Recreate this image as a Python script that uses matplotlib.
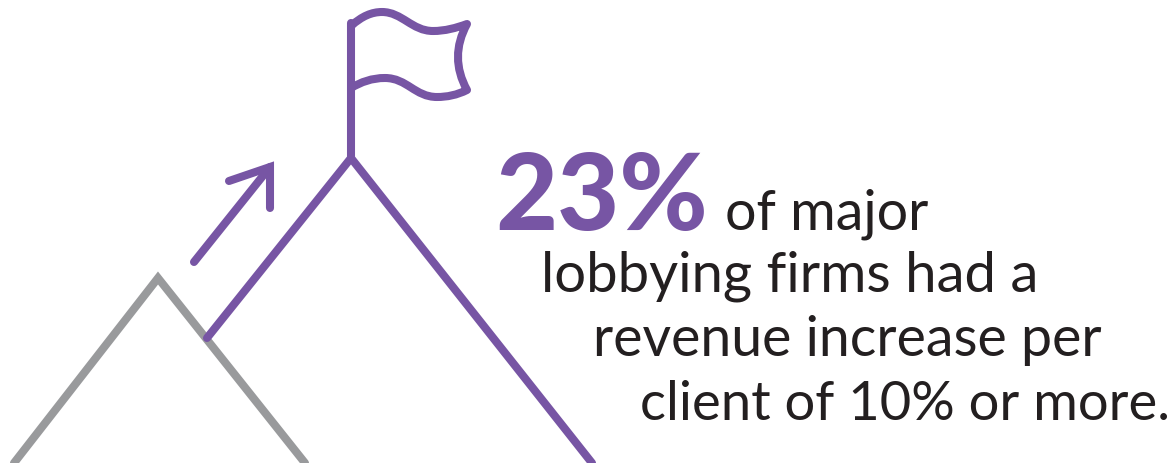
import numpy as np
import matplotlib
matplotlib.use("Agg")
import matplotlib.pyplot as plt
from matplotlib.path import Path
from matplotlib.patches import PathPatch

purple = "#7755a4"
grey = "#999a9c"
dark = "#231f20"

# outlines, in pixels
big_peak_x = [207, 351, 592]
big_peak_y = [338, 158, 463]
small_peak_x = [14, 158, 305]
small_peak_y = [463, 278, 463]
pole_x = [351, 351]
pole_y = [156, 23]
arrow_x = [194, 270]
arrow_y = [262, 167]
head_x = [229, 270, 270]
head_y = [181, 167, 208]

headline = "23%"
lines = ["of major", "lobbying firms had a", "revenue increase per", "client of 10% or more."]
line_x = [725, 541, 593, 640]
line_y = [229, 292, 356, 420]
line_size = [40, 40.5, 40, 39.2]

fig = plt.figure(figsize=(11.76, 4.63), dpi=100)
ax = fig.add_axes([0, 0, 1, 1])
ax.set_xlim(0, 1176)
ax.set_ylim(463, 0)
ax.axis("off")

lw = 5.8
ax.plot(small_peak_x, small_peak_y, color=grey, lw=lw, solid_joinstyle="miter", solid_capstyle="round")
ax.plot(big_peak_x, big_peak_y, color=purple, lw=lw, solid_joinstyle="miter", solid_capstyle="round")
ax.plot(pole_x, pole_y, color=purple, lw=lw, solid_capstyle="round")
ax.plot(arrow_x, arrow_y, color=purple, lw=lw, solid_capstyle="round")
ax.plot(head_x, head_y, color=purple, lw=lw, solid_joinstyle="miter", solid_capstyle="round")

# flag
verts = [(351, 26),
         (362, 16), (372, 12), (382, 12),
         (402, 12), (412, 31), (433, 31),
         (445, 31), (456, 28), (467, 24),
         (455, 46), (455, 68), (467, 90),
         (457, 95), (447, 97), (437, 97),
         (415, 97), (407, 78), (385, 78),
         (372, 78), (361, 82), (351, 88)]
codes = [Path.MOVETO] + [Path.CURVE4] * 21
ax.add_patch(PathPatch(Path(verts, codes), fc="none", ec=purple, lw=lw, capstyle="round", joinstyle="round"))

ax.text(495, 230, headline, color=purple, fontsize=77, fontweight="black", family="Lato", va="baseline")
for s, x, y, size in zip(lines, line_x, line_y, line_size):
    ax.text(x, y, s, color=dark, fontsize=size, family="Lato", fontweight="normal", va="baseline")

fig.savefig("out.png", dpi=100)
